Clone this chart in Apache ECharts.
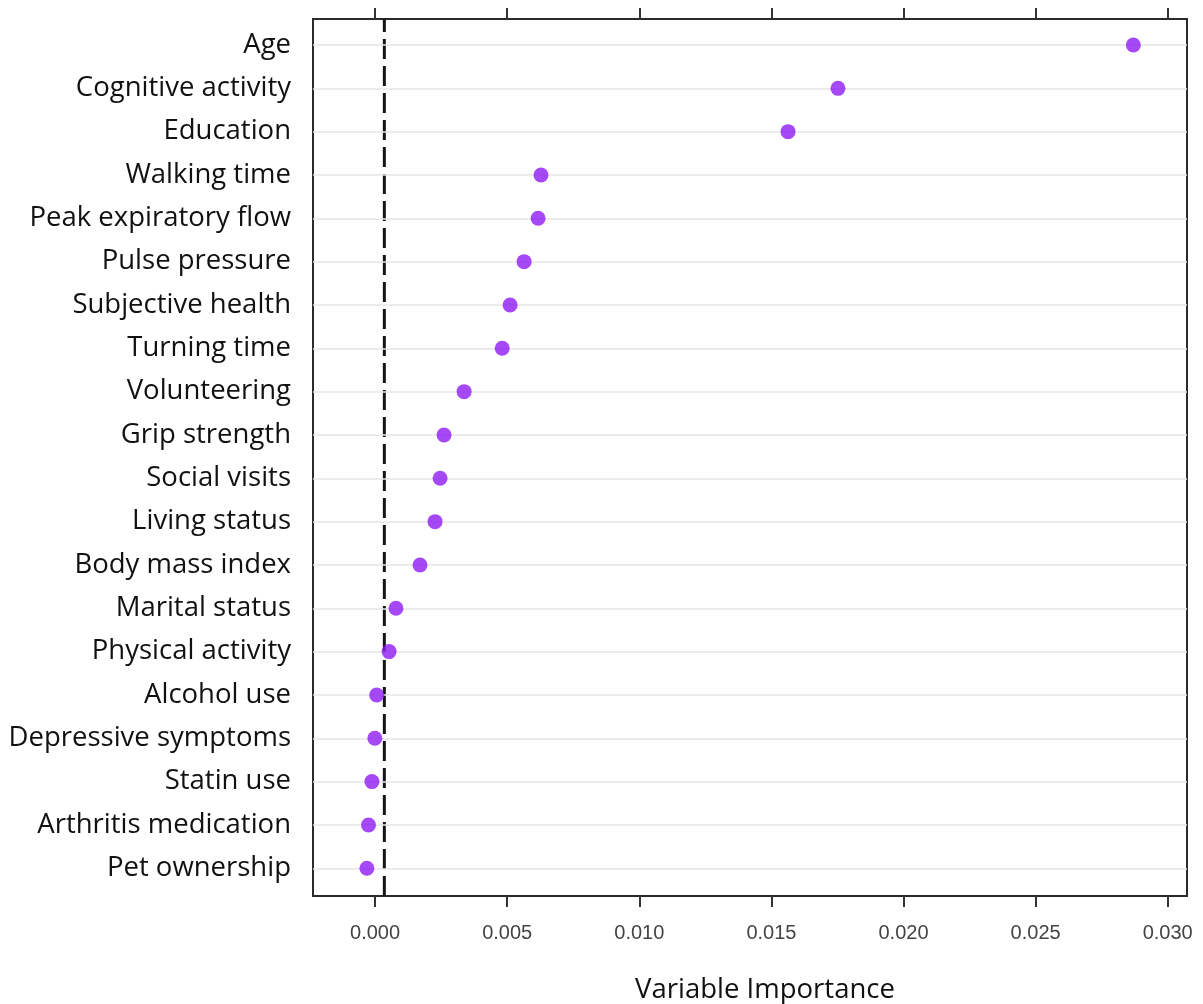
<!DOCTYPE html>
<html>
<head>
<meta charset="utf-8">
<script src="https://cdn.jsdelivr.net/npm/echarts@6/dist/echarts.min.js"></script>
<style>
  html, body { margin: 0; padding: 0; background: #fff; }
  #chart { width: 1203px; height: 1004px; }
</style>
</head>
<body>
<div id="chart"></div>
<script>
// Variables, listed top to bottom
const variables = [
  'Age', 'Cognitive activity', 'Education', 'Walking time', 'Peak expiratory flow',
  'Pulse pressure', 'Subjective health', 'Turning time', 'Volunteering', 'Grip strength',
  'Social visits', 'Living status', 'Body mass index', 'Marital status', 'Physical activity',
  'Alcohol use', 'Depressive symptoms', 'Statin use', 'Arthritis medication', 'Pet ownership'
];
// Permutation importance of each variable (same order)
const importance = [
  0.02870, 0.01752, 0.01563, 0.00628, 0.00617,
  0.00564, 0.00511, 0.00481, 0.00337, 0.00261,
  0.00246, 0.00227, 0.00170, 0.00079, 0.00053,
  0.00006, -0.00001, -0.00012, -0.00025, -0.00031
];
// Reference threshold drawn as the dashed line
const threshold = 0.00035;
// X axis tick values
const xTicks = [0, 0.005, 0.010, 0.015, 0.020, 0.025, 0.030];

const n = variables.length;
// Row positions: top row gets the highest index
const rowIndex = variables.map((_, i) => n - i);
const points = importance.map((v, i) => [v, rowIndex[i]]);

const xMin = -0.00235, xMax = 0.03073;
const yMin = 0.36, yMax = 20.60;
const labelFont = 'Open Sans';

const chart = echarts.init(document.getElementById('chart'));
chart.setOption({
  animation: false,
  backgroundColor: '#ffffff',
  grid: {
    left: 313, right: 16, top: 19, bottom: 108,
    containLabel: false, outerBoundsMode: 'none',
    show: true, borderColor: '#2b2b2b', borderWidth: 2, backgroundColor: 'transparent'
  },
  xAxis: [
    {
      type: 'value', position: 'bottom', min: xMin, max: xMax,
      axisLine: { show: false },
      splitLine: { show: false },
      axisTick: { show: true, customValues: xTicks, length: 11, lineStyle: { color: '#333', width: 2 } },
      axisLabel: {
        customValues: xTicks, margin: 27,
        formatter: v => v.toFixed(3),
        fontFamily: 'Liberation Sans', fontSize: 20, color: '#444'
      },
      name: 'Variable Importance', nameLocation: 'middle', nameGap: 80,
      nameTextStyle: { fontFamily: labelFont, fontSize: 27.5, color: '#111', padding: [0, 0, 0, 30] }
    },
    {
      type: 'value', position: 'top', min: xMin, max: xMax,
      axisLine: { show: false },
      splitLine: { show: false },
      axisTick: { show: true, customValues: xTicks, length: 11, lineStyle: { color: '#333', width: 2 } },
      axisLabel: { show: false }
    }
  ],
  yAxis: {
    type: 'value', min: yMin, max: yMax,
    axisLine: { show: false },
    axisTick: { show: false },
    splitLine: { show: false },
    axisLabel: {
      customValues: rowIndex, margin: 22,
      formatter: v => variables[n - Math.round(v)] || '',
      fontFamily: labelFont, fontSize: 27.5, color: '#111'
    }
  },
  series: [
    {
      // dashed reference line across the full plot height
      type: 'line', data: [[threshold, yMin], [threshold, yMax]],
      symbol: 'none', silent: true,
      lineStyle: { color: '#151515', width: 3, type: [20, 7] },
      z: 3
    },
    {
      type: 'scatter', data: points,
      symbol: 'circle', symbolSize: 15,
      itemStyle: { color: '#8e1cf5' },
      z: 5,
      markLine: {
        silent: true, symbol: 'none', label: { show: false },
        lineStyle: { color: '#e6e6e6', width: 1.5, type: 'solid' },
        // horizontal guide lines at each row
        data: rowIndex.map(r => ({ yAxis: r }))
      }
    }
  ]
});
</script>
</body>
</html>
